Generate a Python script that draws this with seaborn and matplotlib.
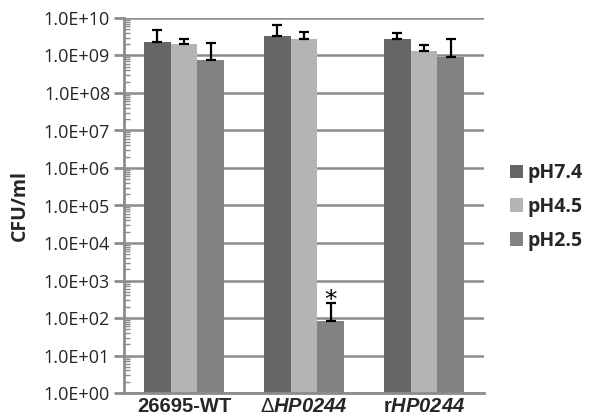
import numpy as np
import pandas as pd
import matplotlib
matplotlib.use('Agg')
import matplotlib.pyplot as plt
import seaborn as sns
from matplotlib.ticker import LogLocator, FixedLocator, FixedFormatter, NullFormatter

strains = ['26695-WT', r'$\Delta\mathbfit{HP0244}$', r'r$\mathbfit{HP0244}$']
ph_levels = ['pH7.4', 'pH4.5', 'pH2.5']
cfu_ph74 = [2.3e9, 3.3e9, 2.7e9]
cfu_ph45 = [2.0e9, 2.7e9, 1.35e9]
cfu_ph25 = [7.6e8, 85, 9.3e8]
err_ph74 = [2.5e9, 3.2e9, 1.2e9]
err_ph45 = [0.7e9, 1.6e9, 0.55e9]
err_ph25 = [1.45e9, 160, 1.8e9]
ytick_vals = [1e0, 1e1, 1e2, 1e3, 1e4, 1e5, 1e6, 1e7, 1e8, 1e9, 1e10]
ytick_labels = ['1.0E+00', '1.0E+01', '1.0E+02', '1.0E+03', '1.0E+04', '1.0E+05',
                '1.0E+06', '1.0E+07', '1.0E+08', '1.0E+09', '1.0E+10']
bar_colors = ['#666666', '#b4b4b4', '#828282']

df = pd.DataFrame({
    'strain': strains * 3,
    'ph': [p for p in ph_levels for _ in strains],
    'cfu': cfu_ph74 + cfu_ph45 + cfu_ph25,
})
errs = [err_ph74, err_ph45, err_ph25]

sns.set_style('white')
plt.rcParams['font.family'] = ['Open Sans', 'DejaVu Sans']
plt.rcParams['mathtext.fontset'] = 'custom'
plt.rcParams['mathtext.rm'] = 'Liberation Sans'
plt.rcParams['mathtext.bfit'] = 'Liberation Sans:italic:bold'
plt.rcParams['mathtext.it'] = 'Liberation Sans:italic'

fig, ax = plt.subplots(figsize=(5.89, 4.19), dpi=100)
fig.subplots_adjust(left=124/589, right=484/589, bottom=1-393/419, top=1-18/419)

ax.set_yscale('log')
sns.barplot(data=df, x='strain', y='cfu', hue='ph', palette=bar_colors,
            width=0.667, saturation=1, errorbar=None, linewidth=0, ax=ax)

for cont, err in zip(ax.containers, errs):
    xs = [b.get_x() + b.get_width() / 2 for b in cont]
    ys = [b.get_height() for b in cont]
    ax.errorbar(xs, ys, yerr=[np.zeros(len(err)), err], fmt='none', ecolor='black',
                elinewidth=1.6, capsize=3.5, capthick=1.6, zorder=5)

# significance star over dHP0244 pH2.5
star_bar = ax.containers[2][1]
ax.text(star_bar.get_x() + star_bar.get_width() / 2, 200, '*', ha='center', va='baseline',
        fontsize=18, color='black', family='DejaVu Sans')

ax.set_ylim(1, 1e10)
ax.set_xlim(-0.5, 2.5)
ax.yaxis.set_major_locator(FixedLocator(ytick_vals))
ax.yaxis.set_major_formatter(FixedFormatter(ytick_labels))
ax.yaxis.set_minor_locator(LogLocator(base=10, subs=np.arange(2, 10), numticks=20))
ax.yaxis.set_minor_formatter(NullFormatter())
ax.tick_params(axis='y', which='major', direction='out', length=7, width=2,
               color='#8c8c8c', labelsize=13, pad=3, left=True)
ax.tick_params(axis='y', which='minor', direction='in', length=4, width=1,
               color='#8c8c8c', left=True)
ax.tick_params(axis='x', length=0, labelsize=14.5, pad=3)
for lbl in ax.get_xticklabels():
    lbl.set_fontweight('bold')
    lbl.set_family('Liberation Sans')

ax.yaxis.grid(True, which='major', color='#8c8c8c', lw=1.8)
ax.set_axisbelow(True)
for s in ['top', 'right']:
    ax.spines[s].set_visible(False)
for s in ['left', 'bottom']:
    ax.spines[s].set_color('#8c8c8c')
    ax.spines[s].set_linewidth(2)

ax.set_xlabel('')
ax.set_ylabel('CFU/ml', fontsize=14, fontweight='bold')
ax.yaxis.set_label_coords(-94/360, 0.5)

ax.legend(loc='center left', bbox_to_anchor=(492/589, 1-207/419),
          bbox_transform=fig.transFigure, frameon=False, handlelength=0.7,
          handleheight=0.7, handletextpad=0.25, labelspacing=0.7,
          prop={'weight': 'bold', 'size': 14})

fig.savefig('out.png', dpi=100)
